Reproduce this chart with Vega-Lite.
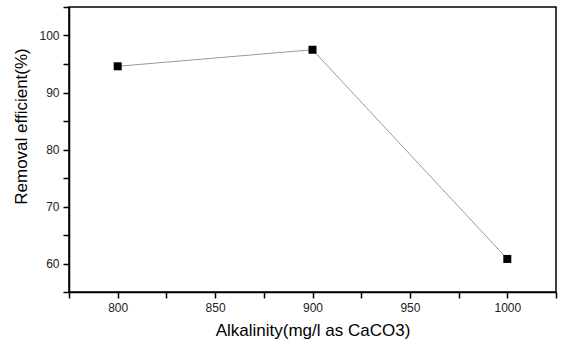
{
  "$schema": "https://vega.github.io/schema/vega-lite/v6.json",
  "width": 487,
  "height": 285,
  "autosize": "none",
  "padding": {"left": 69, "top": 7, "right": 5, "bottom": 50},
  "background": "white",
  "config": {
    "view": {"stroke": "black", "strokeWidth": 1.5},
    "font": "Liberation Sans"
  },
  "data": {"values": [
    {"alk": 800, "eff": 94.6},
    {"alk": 900, "eff": 97.5},
    {"alk": 1000, "eff": 60.8}
  ]},
  "layer": [
    {
      "mark": {"type": "line", "color": "#999999", "strokeWidth": 1},
      "encoding": {
        "x": {"field": "alk", "type": "quantitative"},
        "y": {"field": "eff", "type": "quantitative"}
      }
    },
    {
      "mark": {"type": "square", "color": "black", "opacity": 1, "filled": true, "size": 64},
      "encoding": {
        "x": {
          "field": "alk", "type": "quantitative",
          "scale": {"domain": [775, 1025], "nice": false, "zero": false},
          "axis": {
            "title": "Alkalinity(mg/l as CaCO3)",
            "values": [775, 800, 825, 850, 875, 900, 925, 950, 975, 1000, 1025],
            "tickCount": 30,
            "format": "d",
            "labelExpr": "datum.value % 50 === 0 ? datum.label : ''",
            "labelOverlap": false,
            "labelFlush": false,
            "grid": false,
            "domainColor": "black", "domainWidth": 1.5,
            "tickColor": "black", "tickWidth": 1.5, "tickSize": 6,
            "labelFont": "Liberation Sans", "labelFontSize": 12, "labelColor": "#222222", "labelPadding": 4,
            "titleFont": "Liberation Sans", "titleFontSize": 17, "titleFontWeight": "normal", "titleColor": "black", "titlePadding": 9,
            "encode": {"ticks": {"update": {"y2": {"signal": "datum.value % 50 === 0 ? 6 : 4"}}}}
          }
        },
        "y": {
          "field": "eff", "type": "quantitative",
          "scale": {"domain": [55, 105], "nice": false, "zero": false},
          "axis": {
            "title": "Removal efficient(%)",
            "values": [55, 60, 65, 70, 75, 80, 85, 90, 95, 100, 105],
            "tickCount": 30,
            "format": "d",
            "labelExpr": "datum.value % 10 === 0 ? datum.label : ''",
            "labelOverlap": false,
            "labelFlush": false,
            "grid": false,
            "domainColor": "black", "domainWidth": 1.5,
            "tickColor": "black", "tickWidth": 1.5, "tickSize": 6,
            "labelFont": "Liberation Sans", "labelFontSize": 12, "labelColor": "#222222", "labelPadding": 4,
            "titleFont": "Liberation Sans", "titleFontSize": 17, "titleFontWeight": "normal", "titleColor": "black",
            "titleX": -48, "titleY": 119, "titleBaseline": "middle", "titleAlign": "center", "titleAngle": -90,
            "encode": {"ticks": {"update": {"x2": {"signal": "datum.value % 10 === 0 ? -6 : -4"}}}}
          }
        }
      }
    }
  ]
}
